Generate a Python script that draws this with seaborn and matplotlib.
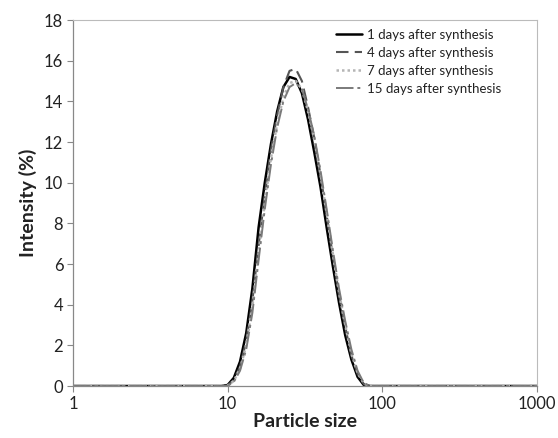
import matplotlib
matplotlib.use("Agg")
import matplotlib.pyplot as plt
import seaborn as sns
import pandas as pd

sizes = [1.0, 5.0, 9.12, 10.0, 10.96, 12.02, 13.18, 14.45, 15.85, 17.38, 19.05,
         20.89, 22.91, 25.12, 27.54, 30.20, 33.11, 36.31, 39.81, 43.65,
         47.86, 52.48, 57.54, 63.10, 69.18, 75.86, 83.18, 100.0, 1000.0]
day1 = [0, 0, 0, 0.05, 0.4, 1.2, 2.6, 4.8, 7.8, 10.0, 11.9,
        13.5, 14.7, 15.2, 15.1, 14.4, 13.1, 11.5, 9.8, 7.8,
        5.9, 4.1, 2.5, 1.3, 0.45, 0.05, 0, 0, 0]
day4 = [0, 0, 0, 0.02, 0.3, 0.95, 2.2, 4.2, 6.9, 9.4, 11.6,
        13.3, 14.7, 15.5, 15.6, 15.0, 13.7, 12.2, 10.4, 8.4,
        6.4, 4.5, 2.9, 1.5, 0.6, 0.1, 0, 0, 0]
day7 = [0, 0, 0, 0.02, 0.25, 0.85, 2.0, 3.9, 6.5, 9.0, 11.2,
        12.9, 14.2, 14.9, 15.0, 14.6, 13.5, 12.1, 10.4, 8.5,
        6.5, 4.6, 3.0, 1.6, 0.65, 0.12, 0, 0, 0]
day15 = [0, 0, 0, 0.01, 0.2, 0.75, 1.8, 3.6, 6.2, 8.7, 10.9,
         12.7, 14.0, 14.7, 14.9, 14.6, 13.6, 12.3, 10.6, 8.7,
         6.7, 4.8, 3.2, 1.8, 0.75, 0.15, 0, 0, 0]
labels = ["1 days after synthesis", "4 days after synthesis",
          "7 days after synthesis", "15 days after synthesis"]
yticks = [0, 2, 4, 6, 8, 10, 12, 14, 16, 18]
xticks = [1, 10, 100, 1000]

sns.set_theme(style="white")
plt.rcParams['font.family'] = ['Lato', 'DejaVu Sans']

fig = plt.figure(figsize=(5.58, 4.38), dpi=100)
ax = fig.add_axes([0.1308, 0.1187, 0.8316, 0.8356])

styles = [
    dict(color="black", linestyle="-", linewidth=1.8),
    dict(color="#555555", linestyle=(0, (6, 3)), linewidth=1.5),
    dict(color="#b5b5b5", linestyle=(0, (1, 1.2)), linewidth=1.8),
    dict(color="#7a7a7a", linestyle=(0, (9, 2, 1.5, 2)), linewidth=1.4),
]
for lab, vals, st in zip(labels, [day1, day4, day7, day15], styles):
    df = pd.DataFrame({"size": sizes, "intensity": vals})
    sns.lineplot(data=df, x="size", y="intensity", ax=ax, label=lab, **st)

ax.set_xscale("log")
ax.set_xlim(1, 1000)
ax.set_ylim(0, 18)
ax.set_xticks(xticks)
ax.set_xticklabels([str(v) for v in xticks])
ax.set_yticks(yticks)
ax.set_yticklabels([str(v) for v in yticks])
ax.minorticks_off()
ax.tick_params(axis="both", labelsize=12, length=4, width=0.8,
               color="#888888", direction="out", bottom=True, left=True,
               pad=3, labelcolor="#222222")
for s in ["left", "bottom"]:
    ax.spines[s].set_color("#888888")
    ax.spines[s].set_linewidth(0.9)
for s in ["top", "right"]:
    ax.spines[s].set_color("#bbbbbb")
    ax.spines[s].set_linewidth(0.8)

ax.set_xlabel("Particle size", fontsize=14, fontweight="bold", labelpad=1,
              color="#222222")
ax.set_ylabel("Intensity (%)", fontsize=14, fontweight="bold", labelpad=5,
              color="#222222")

leg = ax.legend(loc="upper right", bbox_to_anchor=(0.935, 0.99),
                frameon=False, fontsize=9.5, handlelength=2.0,
                handletextpad=0.4, labelspacing=0.45, borderaxespad=0)
for t in leg.get_texts():
    t.set_color("#222222")

fig.savefig("out.png", dpi=100)
